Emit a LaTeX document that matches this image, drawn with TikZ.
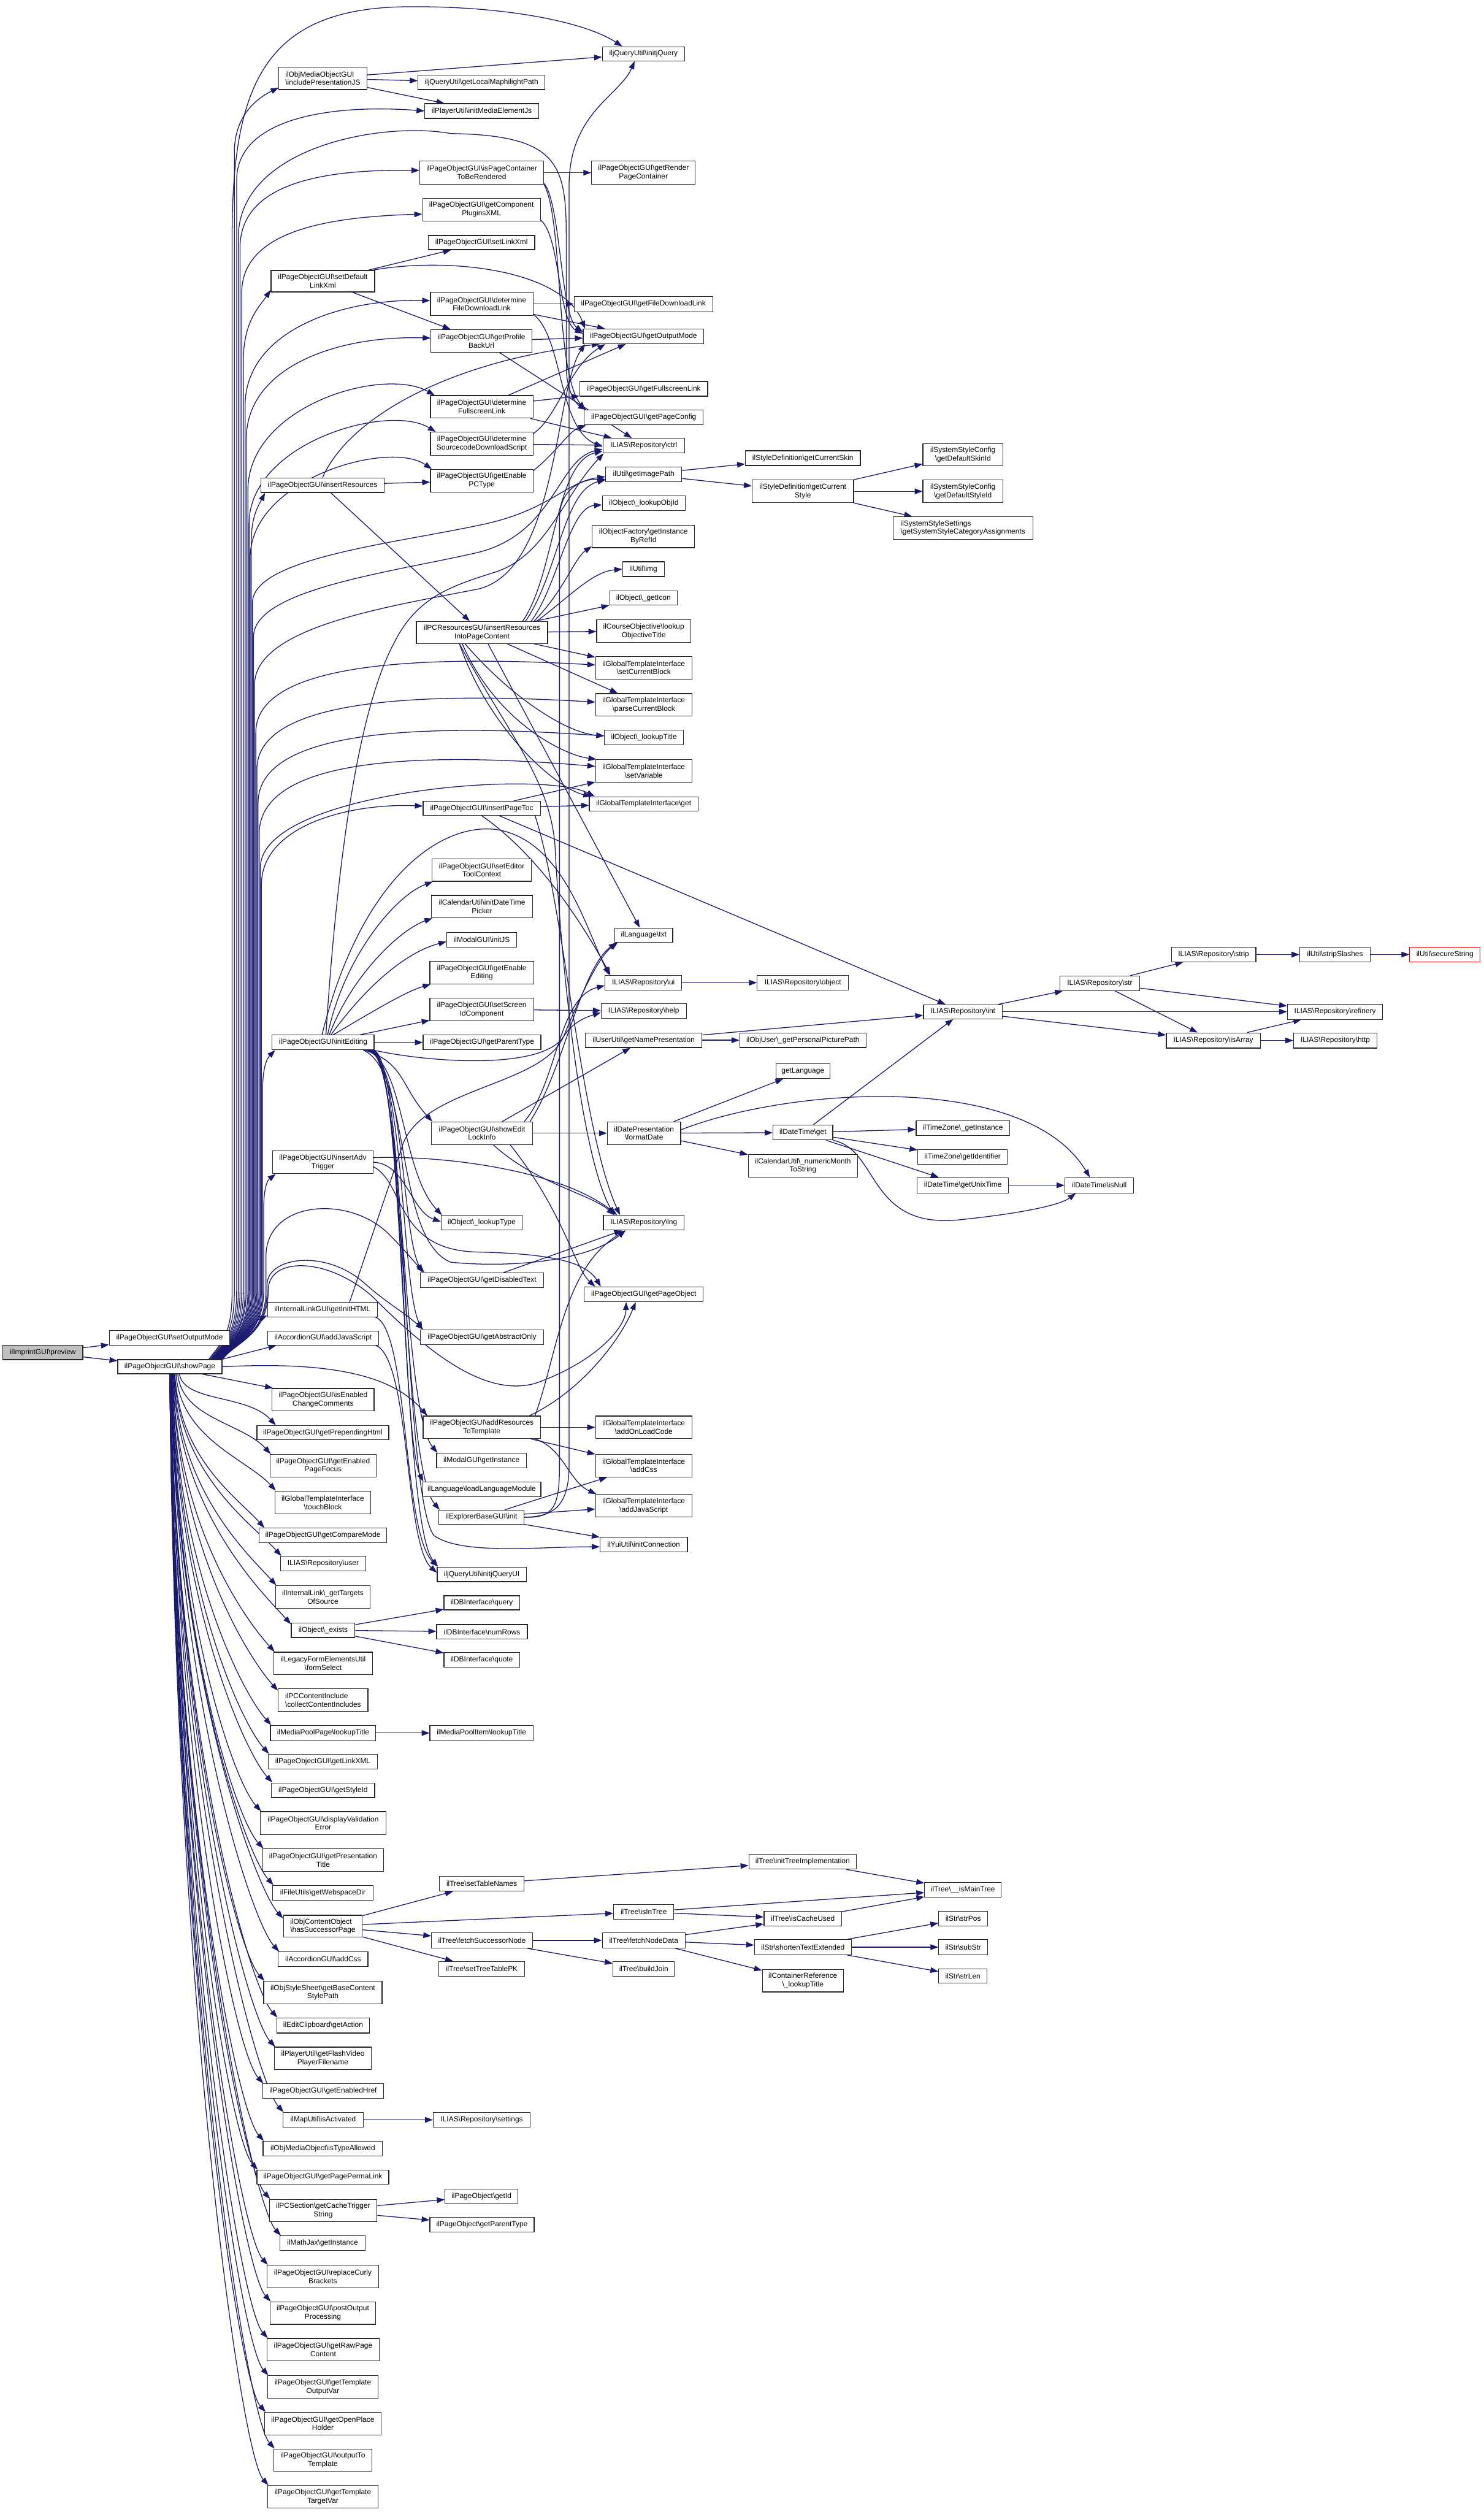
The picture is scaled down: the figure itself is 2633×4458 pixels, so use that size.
\documentclass[tikz,border=0pt]{standalone}
\usepackage{fontspec}
\setmainfont{Liberation Sans}
\usetikzlibrary{arrows.meta}
\definecolor{ec}{HTML}{191970}
\newcommand\BS{\textbackslash}
\pgfdeclarelayer{bg}
\pgfsetlayers{bg,main}
\tikzset{
 fn/.style={draw=black!85, line width=1.3pt, fill=white, inner sep=1pt, align=center, font=\fontsize{13pt}{15pt}\selectfont},
 cg/.style={draw=ec, line width=1.4pt, -{Triangle[length=14pt,width=10pt]}},
}
\newcommand\ND[7][]{\node[fn,#1,minimum width={#5-#3},minimum height={#6-#4}] (#2) at ({(#3+#5)/2},{(#4+#6)/2}) {#7};}
\newcommand\UP[4]{\draw[cg] ([xshift=#1]sp.north east) .. controls +(22,-30) and (#2,2370) .. (#2,2290) -- (#2,#3) #4;}
\newcommand\DN[3]{\draw[cg] ([xshift=#1]sp.south) .. controls +(8,#2) and +(-50,-55) .. #3;}
\newcommand\IE[3]{\draw[cg] ([xshift=#1]ie.south east) .. controls (718,1885) and (712,#2) .. #3;}
\begin{document}
\begin{tikzpicture}[x=1pt,y=-1pt]
\useasboundingbox (0,0) rectangle (2633,4458);
% ---------- nodes ----------
\ND[fill=black!25]{pv}{5}{2387}{147}{2413}{ilImprintGUI\BS preview}
\ND{som}{194}{2361}{408}{2387}{ilPageObjectGUI\BS setOutputMode}
\ND{sp}{209}{2413}{394}{2438}{ilPageObjectGUI\BS showPage}
% column 2
\ND[align=left]{ipj}{495}{119}{651}{159}{ilObjMediaObjectGUI\\\BS includePresentationJS}
\ND{sdl}{481}{480}{665}{518}{ilPageObjectGUI\BS setDefault\\LinkXml}
\ND{ir}{463}{848}{682}{874}{ilPageObjectGUI\BS insertResources}
\ND{ie}{483}{1837}{664}{1863}{ilPageObjectGUI\BS initEditing}
\ND{iat}{484}{2042}{662}{2083}{ilPageObjectGUI\BS insertAdv\\Trigger}
\ND{gih}{475}{2311}{670}{2337}{ilInternalLinkGUI\BS getInitHTML}
\ND{ajsA}{475}{2362}{672}{2387}{ilAccordionGUI\BS addJavaScript}
\ND{iecc}{483}{2464}{664}{2504}{ilPageObjectGUI\BS isEnabled\\ChangeComments}
\ND{gph}{456}{2530}{690}{2555}{ilPageObjectGUI\BS getPrependingHtml}
\ND{gepf}{479}{2581}{668}{2621}{ilPageObjectGUI\BS getEnabled\\PageFocus}
\ND{tb}{488}{2646}{658}{2687}{ilGlobalTemplateInterface\\\BS touchBlock}
\ND{gcm}{460}{2712}{686}{2738}{ilPageObjectGUI\BS getCompareMode}
\ND{ru}{498}{2762}{649}{2788}{ILIAS\BS Repository\BS user}
\ND{gtos}{489}{2814}{657}{2854}{ilInternalLink\BS\_getTargets\\OfSource}
\ND{ex}{517}{2880}{630}{2906}{ilObject\BS\_exists}
\ND{fs}{486}{2932}{661}{2972}{ilLegacyFormElementsUtil\\\BS formSelect}
\ND[align=left]{cci}{494}{2997}{653}{3037}{ilPCContentInclude\\\BS collectContentIncludes}
\ND{mplt}{480}{3062}{667}{3089}{ilMediaPoolPage\BS lookupTitle}
\ND{glx}{476}{3113}{670}{3139}{ilPageObjectGUI\BS getLinkXML}
\ND{gsi}{482}{3164}{665}{3190}{ilPageObjectGUI\BS getStyleId}
\ND{dve}{462}{3215}{685}{3256}{ilPageObjectGUI\BS displayValidation\\Error}
\ND{gpt}{466}{3281}{681}{3321}{ilPageObjectGUI\BS getPresentation\\Title}
\ND{gwd}{484}{3346}{662}{3372}{ilFileUtils\BS getWebspaceDir}
\ND[align=left]{hsp}{503}{3399}{643}{3438}{ilObjContentObject\\\BS hasSuccessorPage}
\ND{acA}{494}{3464}{653}{3490}{ilAccordionGUI\BS addCss}
\ND{gbcs}{468}{3516}{678}{3556}{ilObjStyleSheet\BS getBaseContent\\StylePath}
\ND{ga}{491}{3581}{656}{3608}{ilEditClipboard\BS getAction}
\ND{gfv}{487}{3633}{659}{3673}{ilPlayerUtil\BS getFlashVideo\\PlayerFilename}
\ND{geh}{466}{3698}{681}{3724}{ilPageObjectGUI\BS getEnabledHref}
\ND{iact}{502}{3749}{645}{3775}{ilMapUtil\BS isActivated}
\ND{ita}{467}{3800}{679}{3826}{ilObjMediaObject\BS isTypeAllowed}
\ND{gppl}{456}{3851}{690}{3876}{ilPageObjectGUI\BS getPagePermaLink}
\ND{gcts}{478}{3903}{669}{3943}{ilPCSection\BS getCacheTrigger\\String}
\ND{mj}{497}{3968}{648}{3994}{ilMathJax\BS getInstance}
\ND{rcb}{474}{4020}{672}{4060}{ilPageObjectGUI\BS replaceCurly\\Brackets}
\ND{pop}{479}{4085}{667}{4125}{ilPageObjectGUI\BS postOutput\\Processing}
\ND{grpc}{474}{4150}{673}{4190}{ilPageObjectGUI\BS getRawPage\\Content}
\ND{gtov}{475}{4216}{671}{4256}{ilPageObjectGUI\BS getTemplate\\OutputVar}
\ND{goph}{470}{4281}{676}{4321}{ilPageObjectGUI\BS getOpenPlace\\Holder}
\ND{ott}{486}{4346}{660}{4386}{ilPageObjectGUI\BS outputTo\\Template}
\ND{gttv}{475}{4411}{671}{4451}{ilPageObjectGUI\BS getTemplate\\TargetVar}
% column 3
\ND{glmp}{742}{133}{967}{159}{iljQueryUtil\BS getLocalMaphilightPath}
\ND{imej}{754}{184}{956}{210}{ilPlayerUtil\BS initMediaElementJs}
\ND{ipcr}{745}{286}{965}{327}{ilPageObjectGUI\BS isPageContainer\\ToBeRendered}
\ND{gcpx}{750}{352}{959}{392}{ilPageObjectGUI\BS getComponent\\PluginsXML}
\ND{slx}{760}{418}{949}{443}{ilPageObjectGUI\BS setLinkXml}
\ND{dfdl}{764}{519}{946}{560}{ilPageObjectGUI\BS determine\\FileDownloadLink}
\ND{gpbu}{765}{585}{944}{625}{ilPageObjectGUI\BS getProfile\\BackUrl}
\ND{dfsl}{764}{702}{946}{742}{ilPageObjectGUI\BS determine\\FullscreenLink}
\ND{dsds}{764}{767}{946}{808}{ilPageObjectGUI\BS determine\\SourcecodeDownloadScript}
\ND{gepc}{764}{833}{946}{873}{ilPageObjectGUI\BS getEnable\\PCType}
\ND{irpc}{739}{1103}{972}{1142}{ilPCResourcesGUI\BS insertResources\\IntoPageContent}
\ND{ipt}{751}{1422}{959}{1447}{ilPageObjectGUI\BS insertPageToc}
\ND{setc}{767}{1524}{943}{1564}{ilPageObjectGUI\BS setEditor\\ToolContext}
\ND{idtp}{766}{1589}{945}{1629}{ilCalendarUtil\BS initDateTime\\Picker}
\ND{mij}{793}{1655}{917}{1681}{ilModalGUI\BS initJS}
\ND{gee}{763}{1706}{947}{1746}{ilPageObjectGUI\BS getEnable\\Editing}
\ND{ssic}{763}{1771}{947}{1812}{ilPageObjectGUI\BS setScreen\\IdComponent}
\ND{gpty}{751}{1837}{960}{1863}{ilPageObjectGUI\BS getParentType}
\ND{seli}{766}{1991}{945}{2031}{ilPageObjectGUI\BS showEdit\\LockInfo}
\ND{lty}{783}{2157}{927}{2183}{ilObject\BS\_lookupType}
\ND{gdt}{746}{2259}{965}{2285}{ilPageObjectGUI\BS getDisabledText}
\ND{gao}{746}{2360}{965}{2386}{ilPageObjectGUI\BS getAbstractOnly}
\ND{artt}{751}{2513}{959}{2553}{ilPageObjectGUI\BS addResources\\ToTemplate}
\ND{mgi}{775}{2579}{934}{2605}{ilModalGUI\BS getInstance}
\ND{llm}{750}{2630}{960}{2656}{ilLanguage\BS loadLanguageModule}
\ND{ebi}{779}{2680}{930}{2705}{ilExplorerBaseGUI\BS init}
\ND{ijqui}{776}{2781}{934}{2807}{iljQueryUtil\BS initjQueryUI}
\ND{dbq}{788}{2832}{922}{2857}{ilDBInterface\BS query}
\ND{dbn}{775}{2883}{936}{2909}{ilDBInterface\BS numRows}
\ND{dbqu}{788}{2933}{922}{2959}{ilDBInterface\BS quote}
\ND{mpit}{763}{3062}{946}{3089}{ilMediaPoolItem\BS lookupTitle}
\ND{tstn}{780}{3330}{930}{3356}{ilTree\BS setTableNames}
\ND{tfsn}{766}{3430}{945}{3457}{ilTree\BS fetchSuccessorNode}
\ND{tsttp}{779}{3481}{931}{3507}{ilTree\BS setTreeTablePK}
\ND{rset}{769}{3749}{941}{3775}{ILIAS\BS Repository\BS settings}
\ND{pgid}{790}{3885}{919}{3910}{ilPageObject\BS getId}
\ND{pgpt}{763}{3935}{948}{3961}{ilPageObject\BS getParentType}
% column 4
\ND{ijq}{1069}{83}{1215}{108}{iljQueryUtil\BS initjQuery}
\ND{grpcn}{1050}{286}{1234}{327}{ilPageObjectGUI\BS getRender\\PageContainer}
\ND{gfdl}{1019}{526}{1265}{553}{ilPageObjectGUI\BS getFileDownloadLink}
\ND{gom}{1035}{584}{1249}{610}{ilPageObjectGUI\BS getOutputMode}
\ND{gfsl}{1029}{677}{1256}{703}{ilPageObjectGUI\BS getFullscreenLink}
\ND{gpc}{1037}{728}{1248}{754}{ilPageObjectGUI\BS getPageConfig}
\ND{ctrl}{1070}{778}{1215}{804}{ILIAS\BS Repository\BS ctrl}
\ND{gip}{1075}{829}{1210}{855}{ilUtil\BS getImagePath}
\ND{loid}{1069}{880}{1216}{906}{ilObject\BS\_lookupObjId}
\ND{gibr}{1051}{932}{1233}{972}{ilObjectFactory\BS getInstance\\ByRefId}
\ND{img}{1105}{997}{1179}{1023}{ilUtil\BS img}
\ND{gic}{1082}{1049}{1202}{1074}{ilObject\BS\_getIcon}
\ND{lot}{1059}{1100}{1226}{1140}{ilCourseObjective\BS lookup\\ObjectiveTitle}
\ND{scb}{1057}{1165}{1228}{1205}{ilGlobalTemplateInterface\\\BS setCurrentBlock}
\ND{pcb}{1057}{1231}{1228}{1271}{ilGlobalTemplateInterface\\\BS parseCurrentBlock}
\ND{ltit}{1073}{1296}{1213}{1322}{ilObject\BS\_lookupTitle}
\ND{sv}{1057}{1348}{1228}{1388}{ilGlobalTemplateInterface\\\BS setVariable}
\ND{tget}{1046}{1414}{1239}{1439}{ilGlobalTemplateInterface\BS get}
\ND{ltxt}{1091}{1647}{1194}{1672}{ilLanguage\BS txt}
\ND{rui}{1074}{1731}{1210}{1757}{ILIAS\BS Repository\BS ui}
\ND{rhelp}{1067}{1781}{1218}{1807}{ILIAS\BS Repository\BS help}
\ND{gnp}{1039}{1833}{1246}{1859}{ilUserUtil\BS getNamePresentation}
\ND{fd}{1078}{1991}{1208}{2031}{ilDatePresentation\\\BS formatDate}
\ND{lng}{1071}{2157}{1214}{2183}{ILIAS\BS Repository\BS lng}
\ND{gpo}{1037}{2284}{1248}{2310}{ilPageObjectGUI\BS getPageObject}
\ND{aolc}{1057}{2513}{1228}{2553}{ilGlobalTemplateInterface\\\BS addOnLoadCode}
\ND{acG}{1057}{2581}{1228}{2621}{ilGlobalTemplateInterface\\\BS addCss}
\ND{ajsG}{1057}{2652}{1228}{2692}{ilGlobalTemplateInterface\\\BS addJavaScript}
\ND{yic}{1065}{2728}{1220}{2754}{ilYuiUtil\BS initConnection}
\ND{tiit}{1089}{3380}{1196}{3406}{ilTree\BS isInTree}
\ND{tfnd}{1069}{3430}{1216}{3457}{ilTree\BS fetchNodeData}
\ND{tbj}{1088}{3481}{1197}{3507}{ilTree\BS buildJoin}
% column 5
\ND{gcsk}{1323}{800}{1527}{826}{ilStyleDefinition\BS getCurrentSkin}
\ND{gcst}{1335}{852}{1515}{892}{ilStyleDefinition\BS getCurrent\\Style}
\ND{robj}{1344}{1731}{1506}{1757}{ILIAS\BS Repository\BS object}
\ND{gppp}{1313}{1833}{1537}{1859}{ilObjUser\BS\_getPersonalPicturePath}
\ND{glang}{1377}{1888}{1473}{1914}{getLanguage}
\ND{dtg}{1372}{1997}{1478}{2023}{ilDateTime\BS get}
\ND{nmts}{1328}{2049}{1522}{2089}{ilCalendarUtil\BS\_numericMonth\\ToString}
\ND{titi}{1329}{3291}{1520}{3317}{ilTree\BS initTreeImplementation}
\ND{ticu}{1356}{3392}{1494}{3418}{ilTree\BS isCacheUsed}
\ND{sste}{1339}{3442}{1511}{3469}{ilStr\BS shortenTextExtended}
\ND{crlt}{1353}{3495}{1497}{3535}{ilContainerReference\\\BS\_lookupTitle}
% column 6
\ND{gdsk}{1638}{787}{1780}{827}{ilSystemStyleConfig\\\BS getDefaultSkinId}
\ND{gdst}{1638}{852}{1780}{892}{ilSystemStyleConfig\\\BS getDefaultStyleId}
\ND[align=left]{gssca}{1585}{917}{1833}{957}{ilSystemStyleSettings\\\BS getSystemStyleCategoryAssignments}
\ND{rint}{1639}{1783}{1779}{1808}{ILIAS\BS Repository\BS int}
\ND{tzgi}{1626}{1989}{1792}{2015}{ilTimeZone\BS\_getInstance}
\ND{tzid}{1629}{2040}{1788}{2066}{ilTimeZone\BS getIdentifier}
\ND{dtut}{1628}{2090}{1790}{2117}{ilDateTime\BS getUnixTime}
\ND{timt}{1641}{3341}{1777}{3367}{ilTree\BS\_\_isMainTree}
\ND{spos}{1666}{3392}{1753}{3418}{ilStr\BS strPos}
\ND{ssub}{1666}{3442}{1753}{3469}{ilStr\BS subStr}
\ND{slen}{1666}{3494}{1752}{3519}{ilStr\BS strLen}
% columns 7-9
\ND{rstr}{1881}{1732}{2023}{1758}{ILIAS\BS Repository\BS str}
\ND{risa}{2070}{1833}{2237}{1860}{ILIAS\BS Repository\BS isArray}
\ND{dtin}{1890}{2090}{2012}{2117}{ilDateTime\BS isNull}
\ND{rstrip}{2079}{1681}{2229}{1707}{ILIAS\BS Repository\BS strip}
\ND{sts}{2307}{1681}{2432}{1707}{ilUtil\BS stripSlashes}
\ND{rref}{2285}{1782}{2454}{1809}{ILIAS\BS Repository\BS refinery}
\ND{rhttp}{2296}{1833}{2444}{1860}{ILIAS\BS Repository\BS http}
\ND[draw=red]{sec}{2502}{1681}{2627}{1707}{ilUtil\BS secureString}
% ---------- edges ----------
\begin{pgfonlayer}{bg}
\fill[white] (0,0) rectangle (2633,4458);
\draw[cg] (pv) -- (som);
\draw[cg] (pv) -- (sp);
% showPage upward
\UP{-24pt}{412}{420}{.. controls (412,150) and (470,15) .. (720,12) .. controls (900,10) and (1040,40) .. ([xshift=36pt]ijq.north west)}
\UP{-22pt}{416}{270}{.. controls (416,215) and (445,180) .. ([yshift=4pt]ipj.south west)}
\UP{-20pt}{420}{320}{.. controls (420,205) and (600,185) .. (imej.west)}
\UP{-19pt}{423}{420}{.. controls (425,260) and (680,215) .. (800,237) .. controls (990,240) and (1005,290) .. (1005,420) -- (1005,650) .. controls (1005,690) and (1020,715) .. ([xshift=4pt]gpc.north west)}
\UP{-18pt}{426}{440}{.. controls (426,330) and (560,300) .. ([yshift=4pt]ipcr.west)}
\UP{-17pt}{429}{520}{.. controls (429,410) and (580,385) .. ([yshift=-8pt]gcpx.west)}
\UP{-16pt}{432}{640}{.. controls (432,570) and (460,545) .. ([yshift=4pt]sdl.south west)}
\UP{-15pt}{435}{720}{.. controls (435,590) and (600,530) .. ([yshift=6pt]dfdl.west)}
\UP{-14pt}{437}{780}{.. controls (437,650) and (600,595) .. ([yshift=5pt]gpbu.west)}
\UP{-13pt}{440}{870}{.. controls (440,720) and (680,650) .. ([xshift=8pt]dfsl.north west)}
\UP{-12pt}{442}{930}{.. controls (442,785) and (690,715) .. ([xshift=10pt]dsds.north west)}
\UP{-11pt}{444}{990}{.. controls (444,850) and (690,780) .. ([xshift=3pt]gepc.north west)}
\UP{-10pt}{446}{960}{.. controls (446,915) and (460,895) .. ([xshift=8pt]ir.south west)}
\UP{-9pt}{448}{1070}{.. controls (448,990) and (700,965) .. (860,930) .. controls (975,905) and (1005,855) .. ([yshift=-4pt]gip.west)}
\UP{-8pt}{450}{1130}{.. controls (450,1045) and (700,1015) .. (850,980) .. controls (985,945) and (990,815) .. ([yshift=-6pt]ctrl.west)}
\UP{-7pt}{452}{1210}{.. controls (460,1110) and (700,1075) .. (850,1045) .. controls (990,1010) and (985,690) .. ([xshift=4pt]gom.south west)}
\UP{-6pt}{454}{1300}{.. controls (454,1185) and (700,1160) .. ([yshift=5pt]scb.west)}
\UP{-5pt}{456}{1365}{.. controls (456,1250) and (700,1225) .. ([yshift=5pt]pcb.west)}
\UP{-4pt}{458}{1425}{.. controls (458,1305) and (700,1280) .. ([yshift=3pt]ltit.west)}
\UP{-3pt}{460}{1480}{.. controls (460,1355) and (700,1330) .. ([yshift=8pt]sv.west)}
\UP{-2pt}{462}{1540}{.. controls (462,1405) and (960,1365) .. ([xshift=10pt]tget.north west)}
\UP{-1pt}{464}{1570}{.. controls (464,1465) and (620,1425) .. ([yshift=4pt]ipt.west)}
\UP{0pt}{466}{1935}{.. controls (466,1900) and (472,1880) .. ([xshift=6pt]ie.south west)}
\UP{0pt}{468}{2145}{.. controls (468,2110) and (474,2095) .. ([xshift=6pt]iat.south west)}
\UP{0pt}{472}{2230}{.. controls (472,2130) and (620,2120) .. (690,2190) .. controls (720,2220) and (740,2245) .. ([xshift=8pt]gdt.north west)}
\UP{0pt}{474}{2280}{.. controls (474,2230) and (580,2215) .. (650,2280) .. controls (690,2315) and (712,2325) .. ([xshift=6pt]gao.north west)}
\UP{0pt}{476}{2290}{.. controls (476,2230) and (580,2230) .. (660,2300) .. controls (760,2400) and (860,2480) .. (950,2455) .. controls (1050,2420) and (1110,2360) .. ([xshift=75pt]gpo.south west)}
\draw[cg] ([xshift=-3pt]sp.north east) .. controls (425,2385) and (440,2350) .. ([yshift=3pt]gih.south west);
\draw[cg] ([xshift=-1pt]sp.north east) -- ([xshift=16pt]ajsA.south west);
\draw[cg] (sp.east) .. controls (600,2415) and (700,2445) .. ([xshift=8pt]artt.north west);
% showPage downward
\draw[cg] ([xshift=58pt]sp.south) -- ([xshift=2pt]iecc.north west);
\DN{17pt}{50}{([xshift=34pt]gph.north west)}
\DN{14pt}{79}{([xshift=2pt]gepf.north west)}
\DN{11pt}{114}{([xshift=2pt]tb.north west)}
\DN{9pt}{150}{([xshift=10pt]gcm.north west)}
\DN{8pt}{178}{([xshift=2pt]ru.north west)}
\DN{7pt}{207}{([xshift=2pt]gtos.north west)}
\DN{6pt}{243}{([yshift=-3pt]ex.north west)}
\DN{5pt}{272}{([xshift=2pt]fs.north west)}
\DN{5pt}{307}{([yshift=-4pt]cci.north west)}
\DN{4pt}{343}{([xshift=2pt]mplt.north west)}
\DN{4pt}{371}{([xshift=2pt]glx.north west)}
\DN{3pt}{399}{([xshift=2pt]gsi.north west)}
\DN{3pt}{427}{([xshift=2pt]dve.north west)}
\DN{3pt}{464}{([xshift=2pt]gpt.north west)}
\DN{2pt}{499}{([xshift=2pt]gwd.north west)}
\DN{2pt}{529}{([yshift=-6pt]hsp.north west)}
\DN{2pt}{564}{([xshift=2pt]acA.north west)}
\DN{1pt}{593}{([xshift=2pt]gbcs.north west)}
\DN{1pt}{629}{([xshift=2pt]ga.north west)}
\DN{1pt}{657}{([xshift=2pt]gfv.north west)}
\DN{1pt}{693}{([xshift=2pt]geh.north west)}
\DN{0pt}{721}{([xshift=2pt]iact.north west)}
\DN{0pt}{749}{([xshift=2pt]ita.north west)}
\DN{0pt}{777}{([xshift=2pt]gppl.north west)}
\DN{0pt}{806}{([xshift=2pt]gcts.north west)}
\DN{0pt}{842}{([xshift=2pt]mj.north west)}
\DN{0pt}{870}{([xshift=2pt]rcb.north west)}
\DN{0pt}{906}{([xshift=2pt]pop.north west)}
\DN{0pt}{942}{([xshift=2pt]grpc.north west)}
\DN{0pt}{978}{([xshift=2pt]gtov.north west)}
\DN{0pt}{1014}{([xshift=2pt]goph.north west)}
\DN{0pt}{1049}{([xshift=2pt]ott.north west)}
\DN{0pt}{1085}{([xshift=2pt]gttv.north west)}
% upper column 3 -> 4
\draw[cg] (ipj) -- (ijq);
\draw[cg] (ipj) -- (glmp);
\draw[cg] (ipj) -- (imej);
\draw[cg] (ipcr) -- (grpcn);
\draw[cg] ([yshift=2pt]ipcr.south east) .. controls (995,360) and (995,560) .. ([yshift=8pt]gom.west);
\draw[cg] (ipcr.south east) .. controls (1000,390) and (985,660) .. ([xshift=2pt]gpc.north west);
\draw[cg] ([yshift=2pt]gcpx.south east) .. controls (995,420) and (990,570) .. ([yshift=5pt]gom.west);
\draw[cg] (sdl) -- (slx);
\draw[cg] (sdl) -- (gpbu);
\draw[cg] ([xshift=-4pt]sdl.north east) .. controls (800,455) and (1000,480) .. ([xshift=4pt]gom.north west);
\draw[cg] (dfdl) -- (gfdl);
\draw[cg] (dfdl) -- (gom);
\draw[cg] ([yshift=3pt]dfdl.south east) .. controls (1000,600) and (990,760) .. ([yshift=-2pt]ctrl.west);
\draw[cg] (gpbu) -- (gom);
\draw[cg] (gpbu) -- (ctrl);
\draw[cg] (dfsl) -- (gfsl);
\draw[cg] (dfsl) -- (gom);
\draw[cg] (dfsl) -- (ctrl);
\draw[cg] (dsds) -- (ctrl);
\draw[cg] ([yshift=-3pt]dsds.north east) .. controls (990,740) and (1010,650) .. ([xshift=40pt]gom.south west);
\draw[cg] ([yshift=-3pt]gepc.north east) .. controls (990,800) and (1010,765) .. ([xshift=4pt]gpc.south west);
\draw[cg] (ir) -- (gepc);
\draw[cg] (ir) -- (irpc);
\draw[cg] (ir.north) .. controls (620,740) and (800,640) .. ([xshift=30pt]gom.south west);
% insertResourcesIntoPageContent
\draw[cg] ([xshift=-30pt]irpc.north east) .. controls (990,1040) and (1010,900) .. ([yshift=-3pt]loid.west);
\draw[cg] ([xshift=-25pt]irpc.north east) .. controls (1000,1050) and (1020,990) .. ([yshift=3pt]gibr.south west);
\draw[cg] ([xshift=-20pt]irpc.north east) .. controls (1010,1060) and (1050,1015) .. (img.west);
\draw[cg] (irpc) -- (gic);
\draw[cg] (irpc) -- (lot);
\draw[cg] ([xshift=-40pt]irpc.north east) .. controls (990,1020) and (1000,870) .. ([yshift=4pt]gip.south west);
\draw[cg] ([xshift=-45pt]irpc.north east) .. controls (985,1020) and (985,820) .. ([yshift=4pt]ctrl.south west);
\draw[cg] (irpc) -- (scb);
\draw[cg] (irpc) -- (pcb);
\draw[cg] ([xshift=-30pt]irpc.south) .. controls (900,1230) and (1000,1300) .. ([yshift=3pt]ltit.west);
\draw[cg] ([xshift=-35pt]irpc.south) .. controls (880,1280) and (1000,1340) .. ([xshift=2pt]sv.north west);
\draw[cg] ([xshift=-40pt]irpc.south) .. controls (870,1300) and (990,1400) .. ([xshift=4pt]tget.north west);
\draw[cg] (irpc) -- (ltxt);
\draw[cg] ([xshift=-40pt]irpc.south) .. controls (900,1300) and (975,1380) .. (985,1500) .. controls (995,1700) and (1030,2050) .. ([xshift=20pt]lng.north west);
% insertPageToc
\draw[cg] (ipt) -- (sv);
\draw[cg] (ipt) -- (tget);
\draw[cg] (ipt) -- (rint);
\draw[cg] (ipt.south) .. controls (960,1520) and (1040,1650) .. ([xshift=10pt]rui.north west);
\draw[cg] ([xshift=-10pt]ipt.south east) .. controls (1000,1600) and (1030,2000) .. ([xshift=30pt]lng.north west);
% initEditing
\draw[cg] ([xshift=8pt]ie.north) .. controls (610,1700) and (700,1590) .. ([xshift=2pt]setc.south west);
\draw[cg] ([xshift=11pt]ie.north) .. controls (625,1730) and (710,1650) .. ([xshift=2pt]idtp.south west);
\draw[cg] ([xshift=14pt]ie.north) .. controls (650,1750) and (720,1690) .. ([yshift=-3pt]mij.west);
\draw[cg] ([xshift=18pt]ie.north) .. controls (670,1790) and (720,1760) .. ([xshift=2pt]gee.south west);
\draw[cg] (ie) -- (ssic);
\draw[cg] (ie) -- (gpty);
\draw[cg] ([xshift=5pt]ie.north) .. controls (600,1500) and (640,1250) .. (700,1140) .. controls (740,1060) and (800,1040) .. (880,1015) .. controls (970,985) and (1000,880) .. ([xshift=2pt]ctrl.south west);
\draw[cg] ([xshift=-2pt]ie.north) .. controls (640,1560) and (780,1460) .. (880,1472) .. controls (1000,1490) and (1040,1650) .. ([xshift=8pt]rui.north west);
\draw[cg] ([xshift=-2pt]ie.south east) .. controls (760,1885) and (960,1900) .. (1000,1840) .. controls (1015,1815) and (1040,1805) .. ([yshift=-3pt]rhelp.west);
\IE{-18pt}{1930}{([xshift=2pt]seli.north west)}
\IE{-15pt}{2080}{([xshift=2pt]lty.north west)}
\IE{-12pt}{2180}{([xshift=4pt]gdt.north west)}
\IE{-10pt}{2280}{([xshift=4pt]gao.north west)}
\IE{-8pt}{2500}{([xshift=2pt]mgi.north west)}
\IE{-6pt}{2550}{([xshift=2pt]llm.north west)}
\IE{-4pt}{2600}{([xshift=2pt]ebi.north west)}
\IE{-2pt}{2700}{([xshift=2pt]ijqui.north west)}
\draw[cg] ([xshift=-1pt]ie.south east) .. controls (722,1885) and (715,2650) .. (770,2725) .. controls (820,2760) and (950,2745) .. ([yshift=-4pt]yic.west);
\draw[cg] ([xshift=-20pt]ie.south east) .. controls (730,1900) and (700,2200) .. (800,2240) .. controls (900,2250) and (1040,2240) .. ([xshift=40pt]lng.south west);
% showEditLockInfo
\draw[cg] (seli) -- (gnp);
\draw[cg] (seli) -- (fd);
\draw[cg] ([xshift=-5pt]seli.north east) .. controls (1000,1900) and (1030,1720) .. ([xshift=4pt]ltxt.south west);
\draw[cg] ([xshift=-15pt]seli.north east) .. controls (990,1920) and (990,1770) .. ([yshift=-5pt]rui.west);
\draw[cg] ([xshift=20pt]seli.south) .. controls (950,2100) and (1050,2120) .. ([xshift=20pt]lng.north west);
\draw[cg] ([xshift=50pt]seli.south) .. controls (1000,2150) and (1020,2250) .. ([xshift=20pt]gpo.north west);
% insertAdvTrigger, getDisabledText, getInitHTML, addJavaScript
\draw[cg] (iat.east) .. controls (720,2065) and (730,2150) .. ([yshift=2pt]lty.west);
\draw[cg] ([yshift=8pt]iat.east) .. controls (800,2050) and (1000,2080) .. ([xshift=25pt]lng.north west);
\draw[cg] ([yshift=-8pt]iat.east) .. controls (720,2100) and (700,2220) .. (850,2222) .. controls (980,2225) and (1040,2240) .. ([xshift=30pt]gpo.north west);
\draw[cg] (gdt) -- (lng);
\draw[cg] ([xshift=-4pt]gih.south east) .. controls (725,2360) and (715,2720) .. ([xshift=2pt]ijqui.north west);
\draw[cg] ([xshift=-50pt]gih.north east) -- (712,2040) .. controls (740,1930) and (960,1930) .. (1000,1840) .. controls (1025,1780) and (1060,1700) .. ([xshift=6pt]ltxt.south west);
\draw[cg] ([xshift=-6pt]ajsA.south east) .. controls (728,2410) and (718,2740) .. ([yshift=3pt]ijqui.west);
% addResourcesToTemplate
\draw[cg] (artt) -- (aolc);
\draw[cg] (artt) -- (acG);
\draw[cg] ([xshift=-10pt]artt.south east) .. controls (1000,2570) and (1010,2630) .. ([xshift=2pt]ajsG.north west);
\draw[cg] ([xshift=-20pt]artt.north east) .. controls (1030,2470) and (1100,2380) .. ([xshift=92pt]gpo.south west);
\draw[cg] ([xshift=-10pt]artt.north east) .. controls (990,2400) and (1000,2250) .. ([xshift=40pt]lng.south west);
% ExplorerBaseGUI
\draw[cg] (ebi) -- (acG);
\draw[cg] (ebi) -- (ajsG);
\draw[cg] (ebi) -- (yic);
\draw[cg] (ebi.east) .. controls (985,2692) and (1010,2670) .. (1010,2600) -- (1010,330) .. controls (1010,200) and (1100,170) .. ([xshift=58pt]ijq.south west);
\draw[cg] (ebi.east) .. controls (985,2695) and (993,2670) .. (993,2600) -- (993,920) .. controls (993,870) and (1030,850) .. ([yshift=5pt]gip.south west);
% lower column 2/3
\draw[cg] (ex) -- (dbq);
\draw[cg] (ex) -- (dbn);
\draw[cg] (ex) -- (dbqu);
\draw[cg] (mplt) -- (mpit);
\draw[cg] (hsp) -- (tstn);
\draw[cg] (hsp) -- (tiit);
\draw[cg] (hsp) -- (tfsn);
\draw[cg] (hsp) -- (tsttp);
\draw[cg] (tstn) -- (titi);
\draw[cg] (titi) -- (timt);
\draw[cg] (tiit) -- (timt);
\draw[cg] (tiit) -- (ticu);
\draw[cg] (ticu) -- (timt);
\draw[cg] (tfsn) -- (tfnd);
\draw[cg] (tfsn) -- (tbj);
\draw[cg] (tfnd) -- (ticu);
\draw[cg] (tfnd) -- (sste);
\draw[cg] (tfnd) -- (crlt);
\draw[cg] (sste) -- (spos);
\draw[cg] (sste) -- (ssub);
\draw[cg] (sste) -- (slen);
\draw[cg] (iact) -- (rset);
\draw[cg] (gcts) -- (pgid);
\draw[cg] (gcts) -- (pgpt);
% right part
\draw[cg] (gip) -- (gcsk);
\draw[cg] (gip) -- (gcst);
\draw[cg] (gcst) -- (gdsk);
\draw[cg] (gcst) -- (gdst);
\draw[cg] (gcst) -- (gssca);
\draw[cg] (ssic) -- (rhelp);
\draw[cg] (rui) -- (robj);
\draw[cg] (gnp) -- (gppp);
\draw[cg] (gnp) -- (rint);
\draw[cg] (fd) -- (glang);
\draw[cg] (fd) -- (dtg);
\draw[cg] (fd) -- (nmts);
\draw[cg] ([yshift=6pt]fd.east) .. controls (1400,1930) and (1820,1900) .. ([xshift=45pt]dtin.north west);
\draw[cg] (dtg) -- (rint);
\draw[cg] (dtg) -- (tzgi);
\draw[cg] (dtg) -- (tzid);
\draw[cg] (dtg) -- (dtut);
\draw[cg] (dtg.south east) .. controls (1560,2040) and (1540,2180) .. (1700,2165) .. controls (1800,2155) and (1880,2140) .. ([xshift=20pt]dtin.south west);
\draw[cg] (dtut) -- (dtin);
\draw[cg] (rint) -- (rstr);
\draw[cg] (rint) -- (rref);
\draw[cg] (rint) -- (risa);
\draw[cg] (rstr) -- (rstrip);
\draw[cg] (rstr) -- (rref);
\draw[cg] (rstr) -- (risa);
\draw[cg] (risa) -- (rref);
\draw[cg] (risa) -- (rhttp);
\draw[cg] (rstrip) -- (sts);
\draw[cg] (sts) -- (sec);
\end{pgfonlayer}
\end{tikzpicture}
\end{document}
